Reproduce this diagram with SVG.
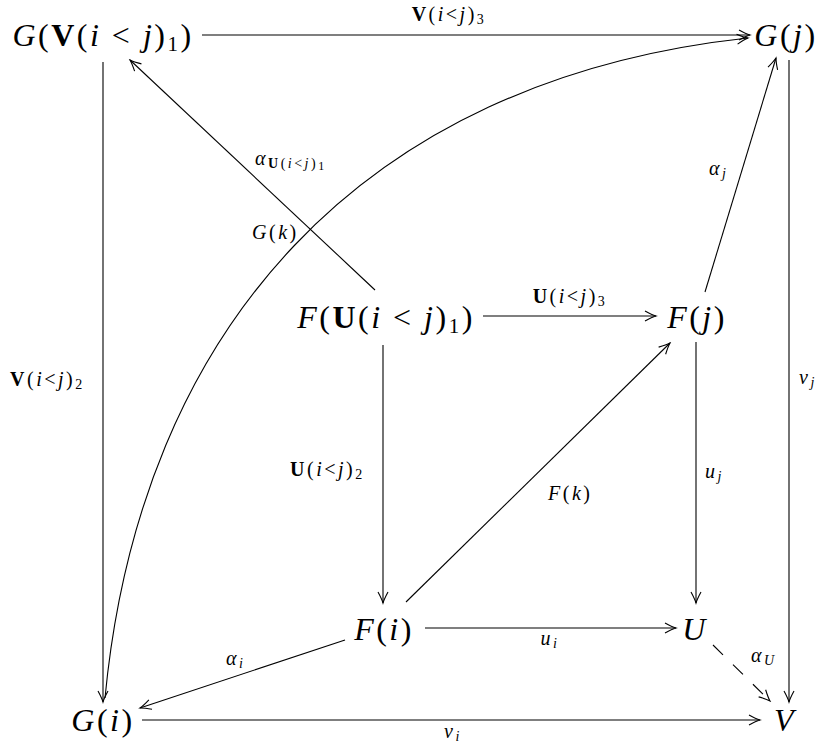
<svg xmlns="http://www.w3.org/2000/svg" width="820" height="747" viewBox="0 0 820 747">
<style>
.n{font-family:"Liberation Serif","DejaVu Serif",serif;font-size:32px;letter-spacing:2.5px;fill:#000}
.l{font-family:"Liberation Serif","DejaVu Serif",serif;font-size:20px;letter-spacing:2.5px;fill:#000}
.i{font-style:italic}
.b{font-weight:bold}
.e{fill:none;stroke:#000;stroke-width:1.1}
.d{stroke-dasharray:14 14}
</style>
<defs>
<marker id="ah" markerWidth="14" markerHeight="12" refX="0" refY="0" viewBox="-12 -6 14 12" orient="auto" markerUnits="userSpaceOnUse">
<path d="M-11,-5 Q-4,-1.2 0,0 Q-4,1.2 -11,5" fill="none" stroke="#000" stroke-width="1.1"/>
</marker>
</defs>
<rect width="820" height="747" fill="#fff"/>
<g id="connectors">
<path class="e" d="M202,35 L750,35" marker-end="url(#ah)"/>
<path class="e" d="M103,62 L103,702" marker-end="url(#ah)"/>
<path class="e" d="M789,60 L789,702" marker-end="url(#ah)"/>
<path class="e" d="M105,698 C140,330 360,80 748,38" marker-end="url(#ah)"/>
<path class="e" d="M375,290 L130,60" marker-end="url(#ah)"/>
<path class="e" d="M483,316 L656,316" marker-end="url(#ah)"/>
<path class="e" d="M705,292 L776,58" marker-end="url(#ah)"/>
<path class="e" d="M383,345 L383,603" marker-end="url(#ah)"/>
<path class="e" d="M406,602 L670,343" marker-end="url(#ah)"/>
<path class="e" d="M696,342 L696,603" marker-end="url(#ah)"/>
<path class="e" d="M425,628 L676,628" marker-end="url(#ah)"/>
<path class="e d" d="M713,645 L770,701" marker-end="url(#ah)"/>
<path class="e" d="M345,640 L140,708" marker-end="url(#ah)"/>
<path class="e" d="M142,720 L760,720" marker-end="url(#ah)"/>
</g>
<g id="edge-labels">
<text class="l" x="449" y="21" text-anchor="middle"><tspan class="b">V</tspan>(<tspan class="i">i</tspan>&lt;<tspan class="i">j</tspan>)<tspan font-size="14" dy="3">3</tspan></text>
<text class="l" x="255" y="165"><tspan class="i">α</tspan><tspan font-size="14" dy="3"><tspan class="b">U</tspan>(<tspan class="i">i</tspan>&lt;<tspan class="i">j</tspan>)</tspan><tspan font-size="12" dy="2">1</tspan></text>
<text class="l" x="252" y="239"><tspan class="i">G</tspan>(<tspan class="i">k</tspan>)</text>
<text class="l" x="570" y="303" text-anchor="middle"><tspan class="b">U</tspan>(<tspan class="i">i</tspan>&lt;<tspan class="i">j</tspan>)<tspan font-size="14" dy="3">3</tspan></text>
<text class="l" x="709" y="175"><tspan class="i">α</tspan><tspan class="i" font-size="14" dy="3">j</tspan></text>
<text class="l" x="10" y="386"><tspan class="b">V</tspan>(<tspan class="i">i</tspan>&lt;<tspan class="i">j</tspan>)<tspan font-size="14" dy="3">2</tspan></text>
<text class="l" x="799" y="384"><tspan class="i">v</tspan><tspan class="i" font-size="14" dy="3">j</tspan></text>
<text class="l" x="290" y="476"><tspan class="b">U</tspan>(<tspan class="i">i</tspan>&lt;<tspan class="i">j</tspan>)<tspan font-size="14" dy="3">2</tspan></text>
<text class="l" x="548" y="500"><tspan class="i">F</tspan>(<tspan class="i">k</tspan>)</text>
<text class="l" x="705" y="478"><tspan class="i">u</tspan><tspan class="i" font-size="14" dy="3">j</tspan></text>
<text class="l" x="550" y="645" text-anchor="middle"><tspan class="i">u</tspan><tspan class="i" font-size="14" dy="3">i</tspan></text>
<text class="l" x="751" y="662"><tspan class="i">α</tspan><tspan class="i" font-size="14" dy="3">U</tspan></text>
<text class="l" x="226" y="665"><tspan class="i">α</tspan><tspan class="i" font-size="14" dy="3">i</tspan></text>
<text class="l" x="453" y="738" text-anchor="middle"><tspan class="i">v</tspan><tspan class="i" font-size="14" dy="3">i</tspan></text>
</g>
<g id="GV1"><text class="n" x="103" y="46" text-anchor="middle"><tspan class="i">G</tspan>(<tspan class="b">V</tspan>(<tspan class="i">i</tspan> &lt; <tspan class="i">j</tspan>)<tspan font-size="21" dy="5">1</tspan><tspan dy="-5">)</tspan></text></g>
<g id="Gj"><text class="n" x="786" y="46" text-anchor="middle"><tspan class="i">G</tspan>(<tspan class="i">j</tspan>)</text></g>
<g id="FU1"><text class="n" x="386" y="328" text-anchor="middle"><tspan class="i">F</tspan>(<tspan class="b">U</tspan>(<tspan class="i">i</tspan> &lt; <tspan class="i">j</tspan>)<tspan font-size="21" dy="5">1</tspan><tspan dy="-5">)</tspan></text></g>
<g id="Fj"><text class="n" x="697" y="328" text-anchor="middle"><tspan class="i">F</tspan>(<tspan class="i">j</tspan>)</text></g>
<g id="Fi"><text class="n" x="384" y="640" text-anchor="middle"><tspan class="i">F</tspan>(<tspan class="i">i</tspan>)</text></g>
<g id="U"><text class="n i" x="695" y="640" text-anchor="middle">U</text></g>
<g id="Gi"><text class="n" x="103" y="731" text-anchor="middle"><tspan class="i">G</tspan>(<tspan class="i">i</tspan>)</text></g>
<g id="V"><text class="n i" x="785" y="731" text-anchor="middle">V</text></g>
</svg>
